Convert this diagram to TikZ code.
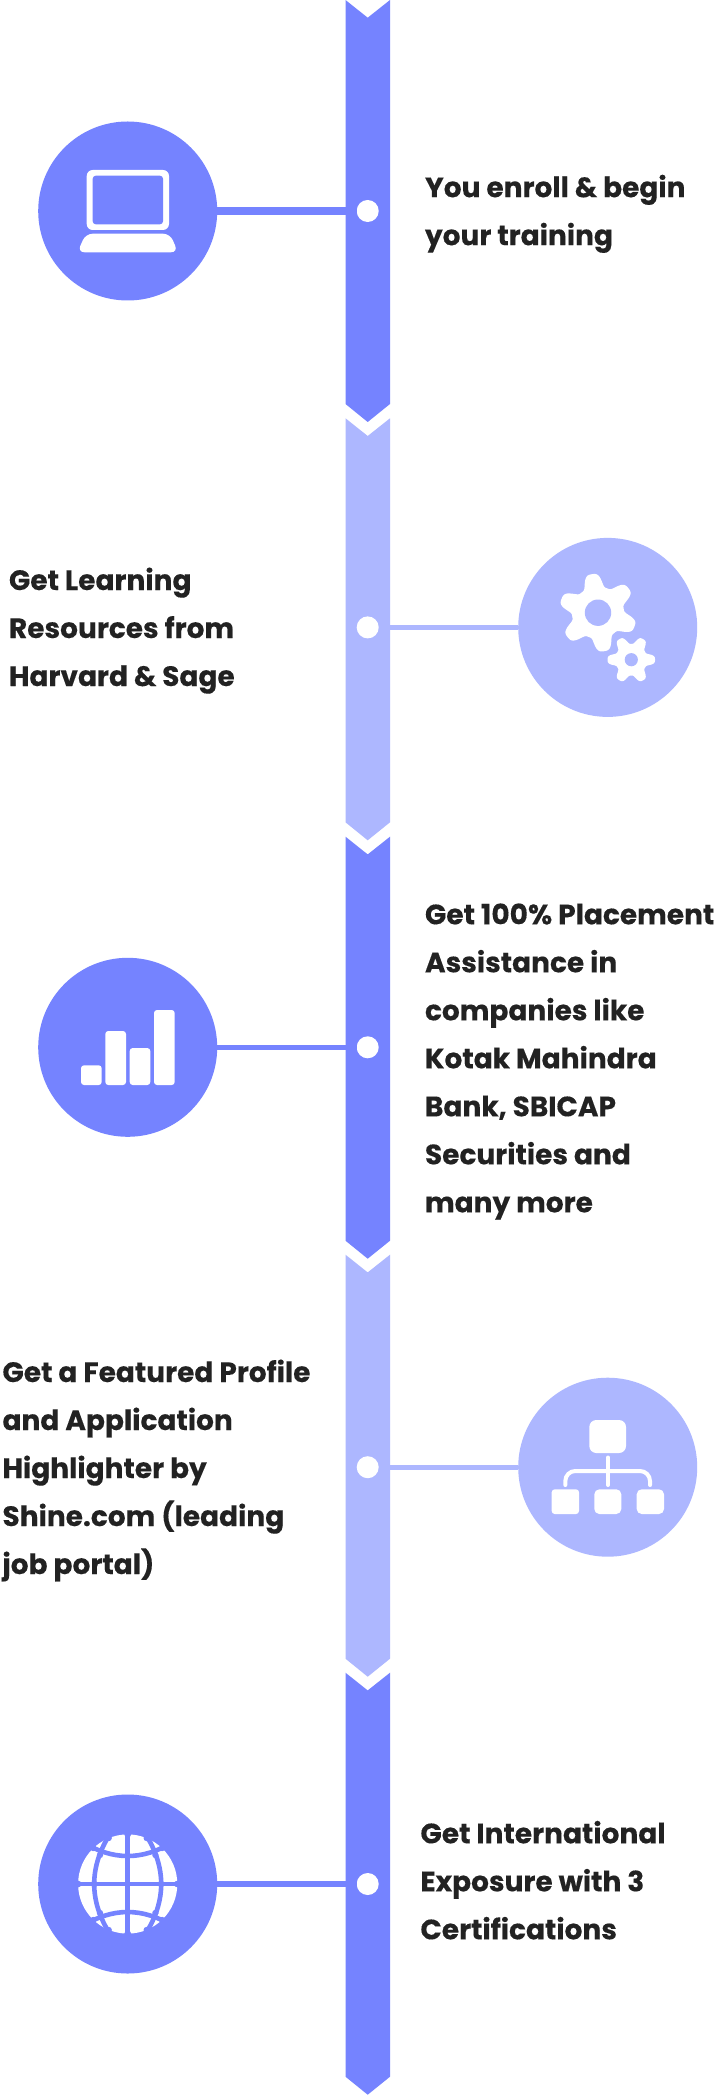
\documentclass[tikz,border=0pt]{standalone}
\usepackage{fontspec}
\setmainfont{Poppins}[BoldFeatures={FakeBold=0.25}]
\definecolor{dk}{HTML}{7583FF}
\definecolor{lt}{HTML}{ADB7FF}
\definecolor{ink}{HTML}{222222}
\tikzset{
 x=0.5pt,y=-0.5pt,
 bigcirc/.style={circle,minimum size=89.5pt,inner sep=0pt,outer sep=0pt},
 dotnode/.style={circle,fill=white,minimum size=11pt,inner sep=0pt,outer sep=0pt},
 label/.style={anchor=base west,inner sep=0pt,outer sep=0pt,font=\fontsize{14}{24}\selectfont\bfseries,text=ink,align=left},
 ic/.style={fill=white,draw=none}
}
\newcommand{\seg}[3]{\fill[#1] (345.5,#2) -- (367.7,#2+17.7) -- (390,#2) -- (390,#3) -- (367.7,#3+18) -- (345.5,#3) -- cycle;}
\begin{document}
\begin{tikzpicture}
\useasboundingbox (0,0) rectangle (715,2096);
\fill[white] (0,0) rectangle (715,2096);
\seg{dk}{0}{404}
\seg{lt}{418.3}{822.3}
\seg{dk}{836.7}{1240.7}
\seg{lt}{1254.7}{1658.7}
\seg{dk}{1672.7}{2076.7}
% circles
\node[bigcirc,fill=dk] (c1) at (127.7,211) {};
\node[bigcirc,fill=lt] (c2) at (607.7,627.4) {};
\node[bigcirc,fill=dk] (c3) at (127.7,1047.3) {};
\node[bigcirc,fill=lt] (c4) at (607.7,1467.2) {};
\node[bigcirc,fill=dk] (c5) at (127.7,1884) {};
% dots
\node[dotnode] (d1) at (367.7,211) {};
\node[dotnode] (d2) at (367.7,627.4) {};
\node[dotnode] (d3) at (367.7,1047.3) {};
\node[dotnode] (d4) at (367.7,1467.2) {};
\node[dotnode] (d5) at (367.7,1884) {};
% connectors
\draw[dk,line width=3.6pt] (c1) -- (d1);
\draw[lt,line width=2.3pt] (c2) -- (d2);
\draw[dk,line width=2.4pt] (c3) -- (d3);
\draw[lt,line width=2.4pt] (c4) -- (d4);
\draw[dk,line width=2.6pt] (c5) -- (d5);
% laptop
\fill[ic,rounded corners=3pt] (86.7,170) rectangle (169,230);
\fill[dk,rounded corners=1.5pt] (92.7,175.7) rectangle (163,224.3);
\fill[ic,rounded corners=3.5pt] (85.7,233.7) -- (170,233.7) -- (178,252.3) -- (77.5,252.3) -- cycle;
% gears
\fill[ic] plot[domain=0:360,samples=181,smooth cycle] ({598+(32.5+7.3*(cos(6*(\x-99))-0.11*cos(18*(\x-99))))*cos(\x)},{612.7-(32.5+7.3*(cos(6*(\x-99))-0.11*cos(18*(\x-99))))*sin(\x)});
\fill[lt] (598,612.7) circle[radius=6.6pt];
\fill[ic] plot[domain=0:360,samples=181,smooth cycle] ({631.3+(19.8+4.4*(cos(6*\x)-0.11*cos(18*\x)))*cos(\x)},{659.7-(19.8+4.4*(cos(6*\x)-0.11*cos(18*\x)))*sin(\x)});
\fill[lt] (631.3,659.7) circle[radius=3.3pt];
% bars
\fill[ic,rounded corners=1.5pt] (81,1065.3) rectangle (101.7,1085);
\fill[ic,rounded corners=1.5pt] (105.3,1031) rectangle (126,1085);
\fill[ic,rounded corners=1.5pt] (129.7,1048) rectangle (150.3,1085);
\fill[ic,rounded corners=1.5pt] (154,1010) rectangle (174.7,1085);
% org chart
\fill[ic,rounded corners=3.5pt] (589.3,1420) rectangle (626,1453);
\fill[ic,rounded corners=1.5pt] (551.7,1489.3) rectangle (579,1514);
\fill[ic,rounded corners=2.5pt] (594.3,1489.3) rectangle (621.3,1514);
\fill[ic,rounded corners=2.5pt] (636.7,1489.3) rectangle (664,1514);
\draw[white,line width=2pt,line cap=round] (608,1457.5) -- (608,1485);
\draw[white,line width=2pt,line cap=round,rounded corners=5pt] (565.3,1485) -- (565.3,1471) -- (650,1471) -- (650,1485);
% globe
\begin{scope}[shift={(127.7,1884)}]
\fill[ic] (0,0) circle[radius=24.8pt];
\begin{scope}
\clip (0,0) circle[radius=25.5pt];
\draw[dk,line width=2.3pt] (0,-52) -- (0,52) (-52,0) -- (52,0);
\draw[dk,line width=2.3pt] (-17.75,-50) .. controls (-38.75,-16.67) and (-38.75,16.67) .. (-17.75,50);
\draw[dk,line width=2.3pt] (17.75,-50) .. controls (38.75,-16.67) and (38.75,16.67) .. (17.75,50);
\draw[dk,line width=2.3pt] (-45,-42) .. controls (-15,-23.33) and (15,-23.33) .. (45,-42);
\draw[dk,line width=2.3pt] (-45,42) .. controls (-15,23.33) and (15,23.33) .. (45,42);
\foreach \a/\b in {33.5/0,0/28,27.7/29,19/46,34.5/36,49.6/0,0/49.6}{
 \fill[dk] (\a,\b) circle[radius=1.6pt];
 \fill[dk] (-\a,\b) circle[radius=1.6pt];
 \fill[dk] (\a,-\b) circle[radius=1.6pt];
 \fill[dk] (-\a,-\b) circle[radius=1.6pt];
}
\end{scope}
\end{scope}
% labels
\node[label] (t1) at (425,245.2) {You enroll \& begin\\your training};
\node[label] (t2) at (9,686) {Get Learning\\Resources from\\Harvard \& Sage};
\node[label] (t3) at (425,1212.3) {Get 100\% Placement\\Assistance in\\companies like\\Kotak Mahindra\\Bank, SBICAP\\Securities and\\many more};
\node[label] (t4) at (2.5,1574) {Get a Featured Profile\\and Application\\Highlighter by\\Shine.com (leading\\job portal)};
\node[label] (t5) at (420.5,1939.3) {Get International\\Exposure with 3\\Certifications};
\end{tikzpicture}
\end{document}
